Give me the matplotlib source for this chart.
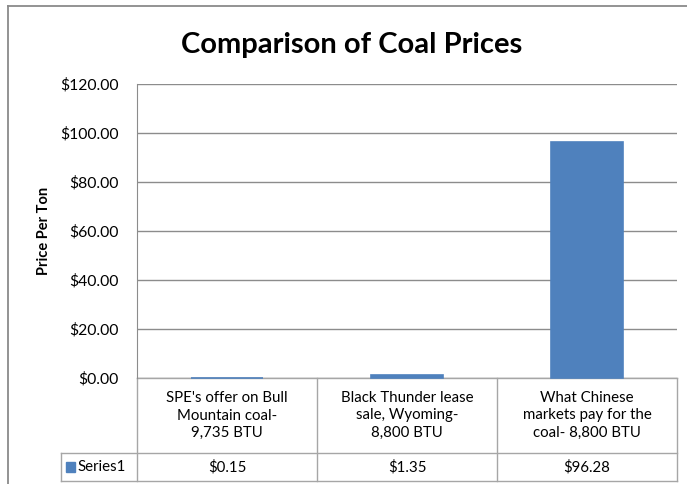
import matplotlib
matplotlib.use("Agg")
import matplotlib.pyplot as plt
from matplotlib.lines import Line2D
from matplotlib.patches import Rectangle
from matplotlib.ticker import FuncFormatter, MultipleLocator

categories = [
    "SPE's offer on Bull\nMountain coal-\n9,735 BTU",
    "Black Thunder lease\nsale, Wyoming-\n8,800 BTU",
    "What Chinese\nmarkets pay for the\ncoal- 8,800 BTU",
]
values = [0.15, 1.35, 96.28]
series_name = "Series1"
title = "Comparison of Coal Prices"
ylabel = "Price Per Ton"

W, H = 687, 484
FONT = ["Lato", "DejaVu Sans"]
plt.rcParams["font.family"] = FONT
BAR = "#4F81BD"
GRID = "#8c8c8c"
TBL = "#a6a6a6"

fig = plt.figure(figsize=(W / 100, H / 100), dpi=100)
fx = lambda px: px / W
fy = lambda py: 1 - py / H

ax = fig.add_axes([fx(137), fy(378), fx(677) - fx(137), fy(84) - fy(378)])
x = list(range(len(categories)))
ax.bar(x, values, width=0.4, color=BAR, edgecolor=BAR, linewidth=1.2, zorder=3, clip_on=False)
ax.set_xlim(-0.5, len(categories) - 0.5)
ax.set_ylim(0, 120)
ax.yaxis.set_major_locator(MultipleLocator(20))
ax.yaxis.set_major_formatter(FuncFormatter(lambda v, p: f"${v:,.2f}"))
ax.grid(axis="y", color=GRID, linewidth=1, zorder=0)
ax.set_xticks([])
ax.tick_params(axis="y", length=0, pad=13, labelsize=11.3)
for s in ["top", "right", "bottom"]:
    ax.spines[s].set_visible(False)
ax.spines["left"].set_color(GRID)
ax.set_ylabel(ylabel, fontsize=10.5, fontweight="bold")
ax.yaxis.set_label_coords((51 - 137) / (677 - 137), 0.5)

fig.text(fx(352), fy(45), title, ha="center", va="center", fontsize=21, fontweight="bold")

# outer chart frame
fig.add_artist(Line2D([fx(8), fx(8)], [fy(6), 0], color="#8a8a8a", lw=1.3))
fig.add_artist(Line2D([fx(8), 1], [fy(6), fy(6)], color="#8a8a8a", lw=1.3))

# data table
t = ax.get_xaxis_transform()
y_top, y_mid, y_bot = 0, (378 - 453) / 294, (378 - 481) / 294
ax.plot([-0.5, 2.5], [y_top, y_top], color=TBL, lw=1, transform=t, clip_on=False, zorder=1)
x_left = -0.5 - (137 - 61) / 180
ax.plot([x_left, 2.5], [y_mid, y_mid], color=TBL, lw=1, transform=t, clip_on=False)
ax.plot([x_left, 2.5], [y_bot, y_bot], color=TBL, lw=1, transform=t, clip_on=False)
ax.plot([x_left, x_left], [y_mid, y_bot], color=TBL, lw=1, transform=t, clip_on=False)
for i in range(len(categories) + 1):
    xb = i - 0.5
    ax.plot([xb, xb], [y_top, y_bot], color=TBL, lw=1, transform=t, clip_on=False)
for i, (c, v) in enumerate(zip(categories, values)):
    ax.text(i, (y_top + y_mid) / 2, c, transform=t, ha="center", va="center",
            fontsize=10.8, linespacing=1.35, clip_on=False)
    ax.text(i, (y_mid + y_bot) / 2, f"${v:,.2f}", transform=t, ha="center", va="center",
            fontsize=10.8, clip_on=False)
fig.add_artist(Rectangle((fx(66), fy(472)), fx(75) - fx(66), fy(462) - fy(472),
                         transform=fig.transFigure, color=BAR))
fig.text(fx(77), fy(467), series_name, ha="left", va="center", fontsize=10.8)

fig.savefig("out.png", dpi=100)
